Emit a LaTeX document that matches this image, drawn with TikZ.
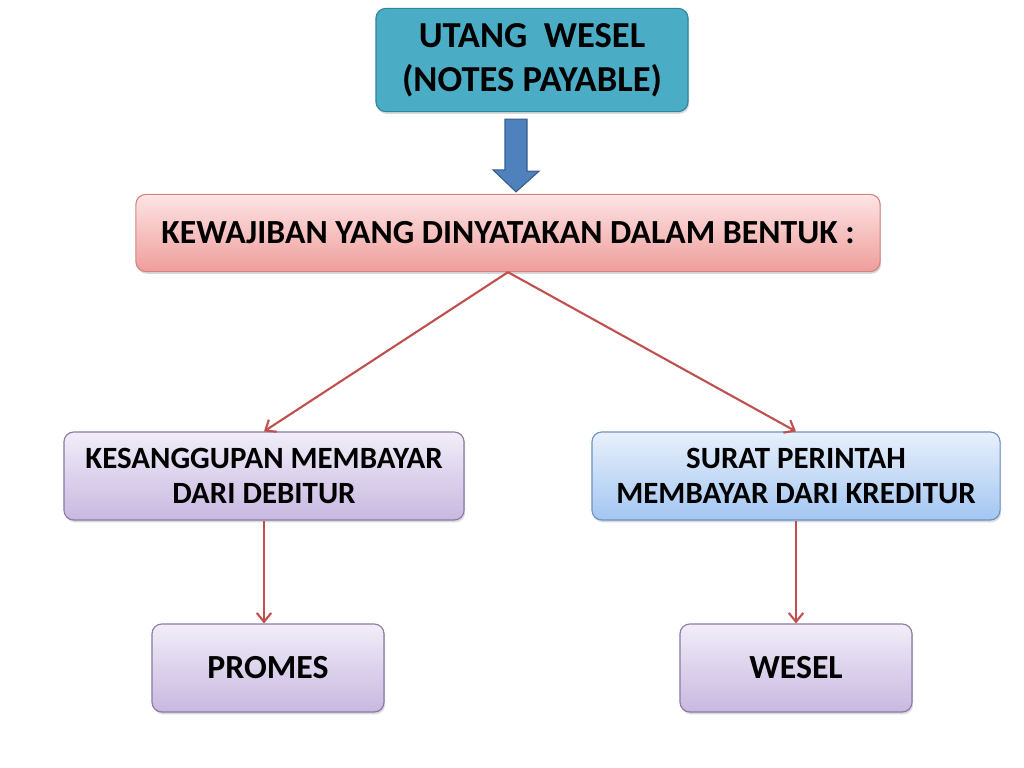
\documentclass[tikz,border=0pt]{standalone}
\usepackage{fontspec}
\setmainfont{Carlito}
\usepackage{xcolor}
\usetikzlibrary{arrows.meta, shadows, calc}

\definecolor{tealfill}{HTML}{4BACC6}
\definecolor{tealline}{HTML}{31859C}
\definecolor{arrfill}{HTML}{4F81BD}
\definecolor{arrline}{HTML}{385D8A}
\definecolor{redline}{HTML}{C0504D}
\definecolor{pinktop}{HTML}{FDE4E4}
\definecolor{pinkbot}{HTML}{EE9E9C}
\definecolor{purptop}{HTML}{F1EDF8}
\definecolor{purpbot}{HTML}{C8B8E0}
\definecolor{purpline}{HTML}{8A7AA6}
\definecolor{bluetop}{HTML}{E8F0FB}
\definecolor{bluebot}{HTML}{A3C6F2}
\definecolor{blueline}{HTML}{6E93C2}

\begin{document}
\begin{tikzpicture}[
  x=0.025cm, y=-0.025cm,
  every node/.style={font=\bfseries\fontsize{24}{26}\selectfont},
  box/.style={rounded corners=7pt, draw, line width=0.8pt, align=center, inner sep=0pt,
    drop shadow={shadow xshift=0.8pt, shadow yshift=-1.6pt, opacity=0.3}},
  pair/.style={font=\bfseries\fontsize{22}{24.5}\selectfont},
  link/.style={draw=redline, line width=1.5pt, -{Straight Barb[length=2.2mm, width=3.6mm]}}
]
\useasboundingbox (0,0) rectangle (1024,768);
% Top box
\node[box, fill=tealfill, draw=tealline, minimum width=7.8cm, minimum height=2.58cm,
  font=\bfseries\fontsize{26}{31}\selectfont] (utang) at (532,60) {UTANG\ \ WESEL\\(NOTES PAYABLE)};
% Middle box
\node[box, top color=pinktop, bottom color=pinkbot, draw=redline!70, minimum width=18.6cm,
  minimum height=1.93cm] (wajib) at (508,233) {KEWAJIBAN YANG DINYATAKAN DALAM BENTUK :};
% Block arrow between them
\draw[fill=arrfill, draw=arrline, line width=0.8pt]
  ($(utang.south)+(-27,7)$) -- ++(22,0) -- ++(0,52) -- ++(12,0)
  -- ($(wajib.north)+(8,-2)$) -- ++(-23,-22) -- ++(12,0) -- cycle;
% Second row
\node[box, pair, top color=purptop, bottom color=purpbot, draw=purpline, minimum width=10cm,
  minimum height=2.2cm] (sanggup) at (264,476) {KESANGGUPAN MEMBAYAR\\DARI DEBITUR};
\node[box, pair, top color=bluetop, bottom color=bluebot, draw=blueline, minimum width=10.2cm,
  minimum height=2.2cm] (perintah) at (796,476) {SURAT PERINTAH\\MEMBAYAR DARI KREDITUR};
% Bottom row
\node[box, top color=purptop, bottom color=purpbot, draw=purpline, minimum width=5.8cm,
  minimum height=2.2cm] (promes) at (268,668) {PROMES};
\node[box, top color=purptop, bottom color=purpbot, draw=purpline, minimum width=5.8cm,
  minimum height=2.2cm] (wesel) at (796,668) {WESEL};
% Connectors
\draw[link] (wajib.south) -- (sanggup.north);
\draw[link] (wajib.south) -- (perintah.north);
\draw[link] (sanggup.south) -- (sanggup.south |- promes.north);
\draw[link] (perintah.south) -- (wesel.north);
\end{tikzpicture}
\end{document}
